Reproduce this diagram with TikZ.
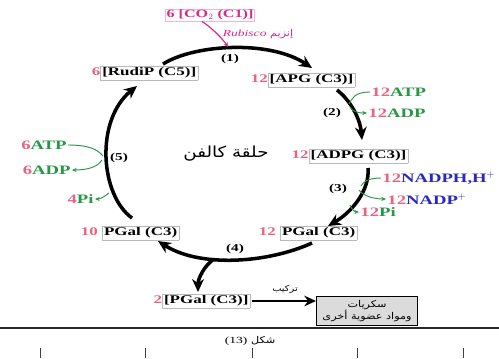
\documentclass[tikz,border=0pt]{standalone}
\usepackage{fontspec}
\setmainfont{Liberation Serif}[FakeStretch=1.45]
\newfontfamily\arabicfont[Script=Arabic,FakeStretch=1.2]{DejaVu Sans}
\TeXXeTstate=1
\usetikzlibrary{arrows.meta}
\definecolor{numpink}{RGB}{232,100,130}
\definecolor{cofgreen}{RGB}{40,150,70}
\definecolor{cofblue}{RGB}{40,40,190}
\definecolor{copink}{RGB}{215,40,140}
\newcommand{\nb}[1]{\textcolor{numpink}{#1}}
\newcommand{\cpd}[1]{{\setlength{\fboxsep}{1.2pt}\setlength{\fboxrule}{0.5pt}\fcolorbox{gray!55}{white}{#1}}}
\newcommand{\ar}[1]{{\arabicfont\beginR #1\endR}}

\begin{document}
\begin{tikzpicture}[x=0.03cm,y=-0.03cm,
  every node/.style={font=\fontsize{10}{12}\selectfont\bfseries, inner sep=1pt},
  cofnode/.style={font=\fontsize{11}{12}\selectfont\bfseries},
  cycarrow/.style={line width=3pt, -{Stealth[length=11pt,width=10pt]}},
  cofline/.style={cofgreen, line width=0.8pt},
  cofarrow/.style={cofline, -{Stealth[length=4pt,width=3.5pt]}},
  steplabel/.style={font=\fontsize{9}{10}\selectfont\bfseries},
  graybox/.style={draw, fill=gray!28, line width=0.8pt, minimum width=101*0.03cm,
    minimum height=29*0.03cm, align=center, inner sep=0pt,
    font=\fontsize{8}{10.5}\selectfont}]
\useasboundingbox (0,0) rectangle (499,358);

\node (co2) at (210,15) [draw=copink!35, text=copink, font=\fontsize{9.5}{11}\selectfont\bfseries] {6 [CO$_2$ (C1)]};
\node (rubisco) at (258,34) [text=copink, font=\fontsize{8}{9}\selectfont]
  {\ar{إنزيم \beginL{\rmfamily\itshape Rubisco}\endL}};
\node (rudp) at (145,73) {\nb{6}\cpd{[RudiP (C5)]}};
\node (apg) at (303,80) {\nb{12}\cpd{[APG (C3)]}};
\node (adpg) at (350,156) {\nb{12}\cpd{[ADPG (C3)]}};
\node (pgal12) at (308,233) {\nb{12} \cpd{PGal (C3)}};
\node (pgal10) at (130,233) {\nb{10} \cpd{PGal (C3)}};
\node (pgal2) at (202,301) {\nb{2}\cpd{[PGal (C3)]}};
\node (sugar) at (367,311) [graybox] {\ar{سكريات}\\ \ar{ومواد عضوية أخرى}};
\node (cycle) at (226,154) [font=\fontsize{13}{15}\selectfont] {\ar{حلقة كالفن}};
\node (synth) at (285,289) [font=\fontsize{7}{8}\selectfont] {\ar{تركيب}};

\node (s1) at (230,59) [steplabel] {(1)};
\node (s2) at (332,113) [steplabel] {(2)};
\node (s3) at (338,189) [steplabel] {(3)};
\node (s4) at (235,249) [steplabel] {(4)};
\node (s5) at (119,158) [steplabel] {(5)};

\node (atp12) at (370,92) [cofnode, anchor=west] {\nb{12}\textcolor{cofgreen}{ATP}};
\node (adp12) at (367,113) [cofnode, anchor=west] {\nb{12}\textcolor{cofgreen}{ADP}};
\node (nadph) at (381,178) [cofnode, anchor=west] {\nb{12}\textcolor{cofblue}{NADPH,H$^+$}};
\node (nadp) at (386,199) [cofnode, anchor=west] {\nb{12}\textcolor{cofblue}{NADP$^+$}};
\node (pi12) at (359,212) [cofnode, anchor=west] {\nb{12}\textcolor{cofgreen}{Pi}};
\node (atp6) at (68,145) [cofnode, anchor=east] {\nb{6}\textcolor{cofgreen}{ATP}};
\node (adp6) at (72,170) [cofnode, anchor=east] {\nb{6}\textcolor{cofgreen}{ADP}};
\node (pi4) at (95,199) [cofnode, anchor=east] {\nb{4}\textcolor{cofgreen}{Pi}};

\coordinate (fix) at (228,47);
\coordinate (join) at (214,259);
\coordinate (c2in) at (349,104);
\coordinate (c2out) at (350,107);
\coordinate (c3in) at (361,186);
\coordinate (c3out) at (359,190);
\coordinate (c3pi) at (350,205);
\coordinate (c5in) at (103,156);
\coordinate (c5out) at (102,160);
\coordinate (c5pi) at (109,193);

\draw [cycarrow] (163,64) .. controls (195,44) and (270,40) .. (312,68);
\draw [cycarrow] (337,90) .. controls (350,100) and (360,118) .. (362,140);
\draw [cycarrow] (368,168) .. controls (370,190) and (352,212) .. (328,226);
\draw [cycarrow] (312,243) .. controls (268,263) and (200,268) .. (158,241);
\draw [cycarrow] (join) .. controls (205,265) and (198,278) .. (198,292);
\draw [cycarrow] (132,218) .. controls (100,195) and (95,120) .. (137,86);
\path [line width=2.5pt, -{Stealth[length=10pt,width=9pt]}] (pgal2.east) edge (pgal2.east -| sugar.west);

\draw [copink, line width=1pt, -{Stealth[length=4pt,width=4pt]}] (co2.south) ++(-8,0)
  .. controls (212,28) and (222,38) .. (fix);
\draw [cofline] (atp12.west) .. controls (354,92) and (352,99) .. (c2in);
\draw [cofarrow] (c2out) .. controls (353,112) and (358,113) .. (adp12.west);
\draw [cofline] (nadph.west) .. controls (368,178) and (363,182) .. (c3in);
\draw [cofarrow] (c3out) .. controls (364,197) and (376,199) .. (nadp.west);
\draw [cofarrow] (c3pi) .. controls (352,210) and (355,212) .. (pi12.west);
\draw [cofline] (atp6.east) .. controls (90,145) and (98,150) .. (c5in);
\draw [cofarrow] (c5out) .. controls (97,168) and (85,170) .. (adp6.east);
\draw [cofarrow] (c5pi) .. controls (104,197) and (100,199) .. (pi4.east);

\draw [gray!30!black, line width=1.5pt] (0,328) -- (499,328);
\node (doc) at (250,341) [font=\fontsize{8}{9}\selectfont] {\ar{شكل \beginL{\rmfamily(13)}\endL}};
\foreach \tx in {40,145,252,357,463}
  \draw [gray!50!black, line width=0.6pt] (\tx,348) -- (\tx,358);
\end{tikzpicture}
\end{document}
